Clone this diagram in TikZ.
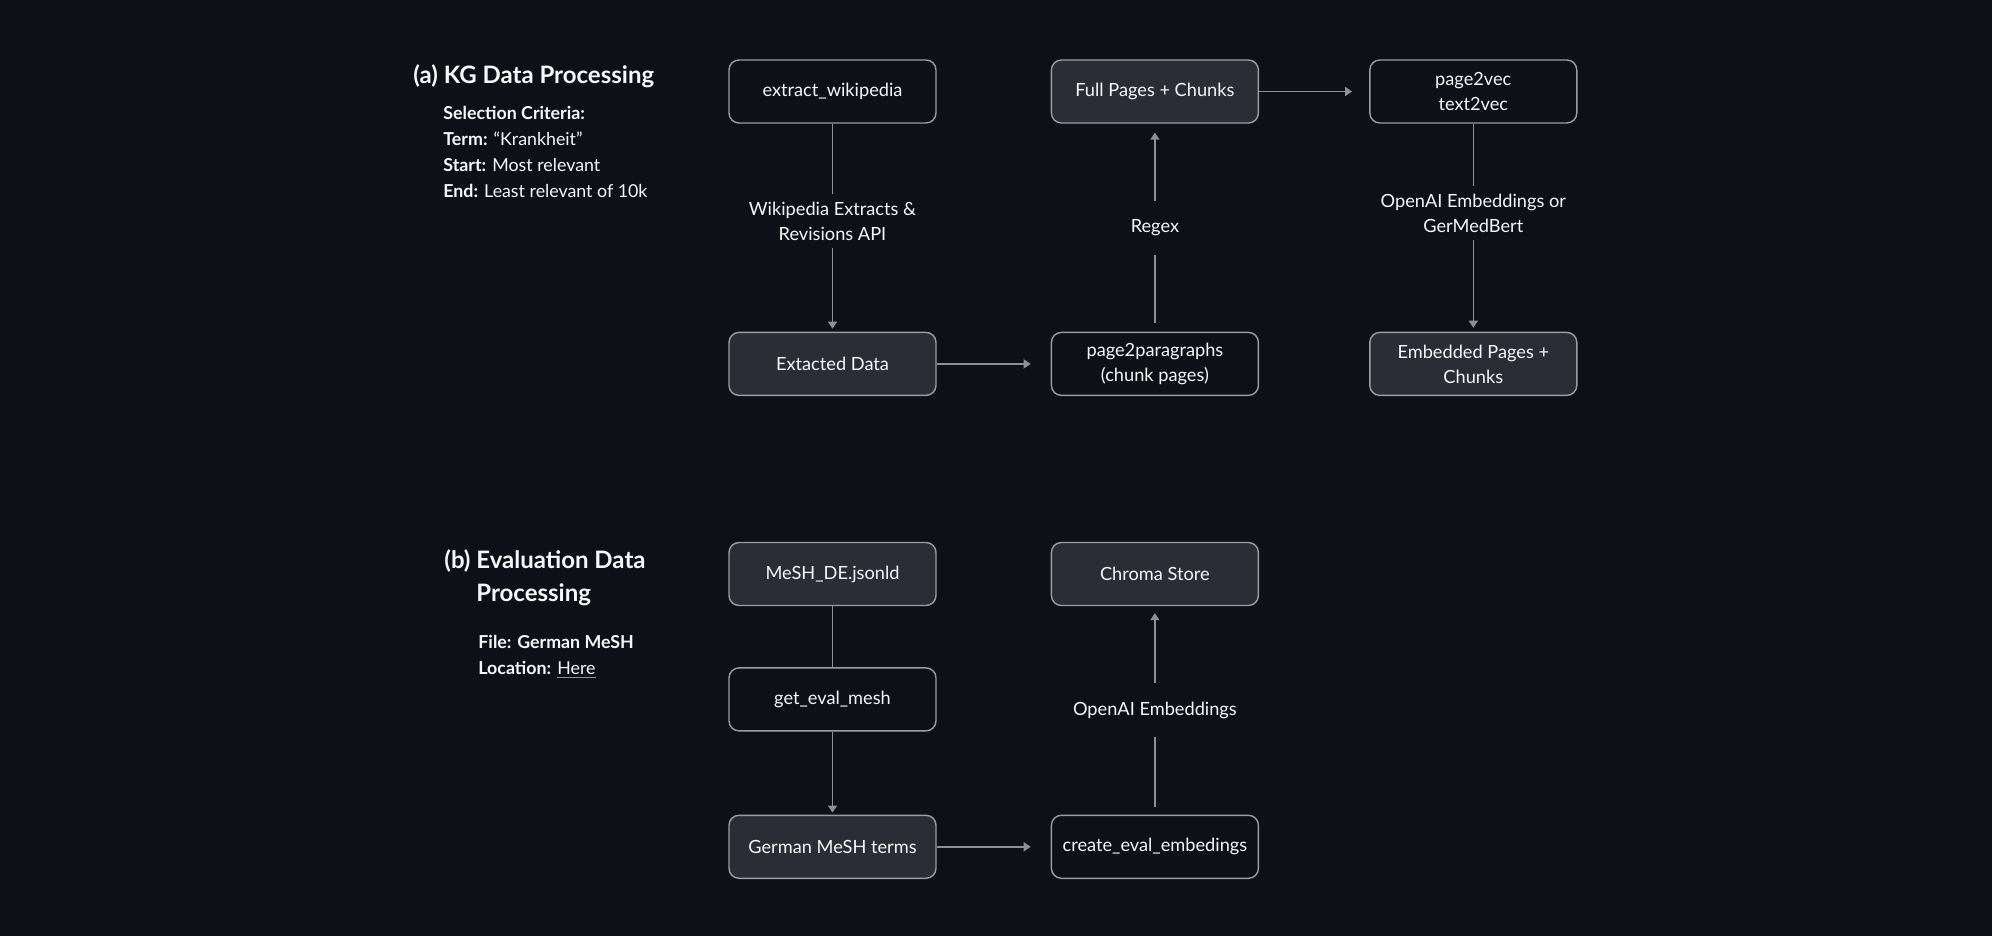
\documentclass[tikz,border=0pt]{standalone}
\usepackage{fontspec}
\setmainfont{Lato}
\usetikzlibrary{arrows.meta, positioning}
\definecolor{bgcol}{HTML}{0D1117}
\definecolor{boxfill}{HTML}{2A2D35}
\definecolor{boxline}{HTML}{9A9DA3}
\definecolor{linecol}{HTML}{8E9096}
\definecolor{txtcol}{HTML}{F7F7F7}
\newcommand{\herelink}{{\color{linecol}\underline{\color{txtcol}Here}}}

\begin{document}
\begin{tikzpicture}[x=0.5pt, y=-0.5pt,
    box/.style={draw=boxline, line width=0.7pt, rounded corners=5pt, fill=bgcol, minimum width=103.5pt, minimum height=31.5pt, align=center, text=txtcol, font=\fontsize{9.1pt}{12.5pt}\selectfont},
    data/.style={box, fill=boxfill},
    lbl/.style={fill=bgcol, text=txtcol, align=center, minimum height=27pt, inner sep=2pt, font=\fontsize{9.1pt}{12.5pt}\selectfont},
    flow/.style={draw=linecol, line width=0.75pt, -{Triangle[length=3.5pt, width=4.5pt]}},
    plain/.style={draw=linecol, line width=0.75pt},
    head/.style={text=txtcol, anchor=west, align=left, inner sep=0pt, font=\bfseries\fontsize{12pt}{16.5pt}\selectfont},
    info/.style={text=txtcol, anchor=north west, align=left, inner sep=0pt, font=\fontsize{8.9pt}{13pt}\selectfont}]

        % Background
        \fill [bgcol] (0,0) rectangle (1992,936);

        % (a) KG data processing
        \node (titlea) [head] at (413,76.7) {(a) KG Data Processing};
        \node (infoa)  [info] at (443,106) {\textbf{Selection Criteria:}\\\textbf{Term:} “Krankheit”\\\textbf{Start:} Most relevant\\\textbf{End:} Least relevant of 10k};

        \node (extract)    [box] at (832.5,91.5) {extract\_wikipedia};
        \node (fullpages)  [data, right=57pt of extract] {Full Pages + Chunks};
        \node (vec)        [box, right=55pt of fullpages] {page2vec\\text2vec};
        \node (extdata)    [data, below=104pt of extract] {Extacted Data};
        \node (paragraphs) [box, below=104pt of fullpages] {page2paragraphs\\(chunk pages)};
        \node (embedded)   [data, below=104pt of vec] {Embedded Pages +\\Chunks};

        \draw [flow, shorten >=1.5pt] (extract) -- node [lbl, pos=.47] {Wikipedia Extracts \&\\Revisions API} (extdata);
        \draw [flow, shorten >=10pt] (extdata) -- (paragraphs);
        \draw [flow, shorten <=4.5pt, shorten >=4.5pt] (paragraphs) -- node [lbl] {Regex} (fullpages);
        \draw [flow, shorten >=8.5pt] (fullpages) -- (vec);
        \draw [flow, shorten >=2pt] (vec) -- node [lbl, pos=.43] {OpenAI Embeddings or\\GerMedBert} (embedded);

        % (b) Evaluation data processing
        \node (titleb) [head, anchor=north west] at (444,549) {(b) Evaluation Data\\\hphantom{(b)~}Processing};
        \node (infob)  [info] at (478,635) {\textbf{File: German MeSH}\\\textbf{Location:} \herelink};

        \node (mesh)    [data] at (832.5,574) {MeSH\_DE.jsonld};
        \node (geteval) [box, below=30.5pt of mesh] {get\_eval\_mesh};
        \node (german)  [data, below=41.5pt of geteval] {German MeSH terms};
        \node (chroma)  [data, right=57pt of mesh] {Chroma Store};
        \node (create)  [box, right=57pt of german] {create\_eval\_embedings};

        \draw [plain] (mesh) -- (geteval);
        \draw [flow, shorten >=1pt] (geteval) -- (german);
        \draw [flow, shorten >=10pt] (german) -- (create);
        \draw [flow, shorten <=4pt, shorten >=3.5pt] (create) -- node [lbl] {OpenAI Embeddings} (chroma);
    \end{tikzpicture}
\end{document}
